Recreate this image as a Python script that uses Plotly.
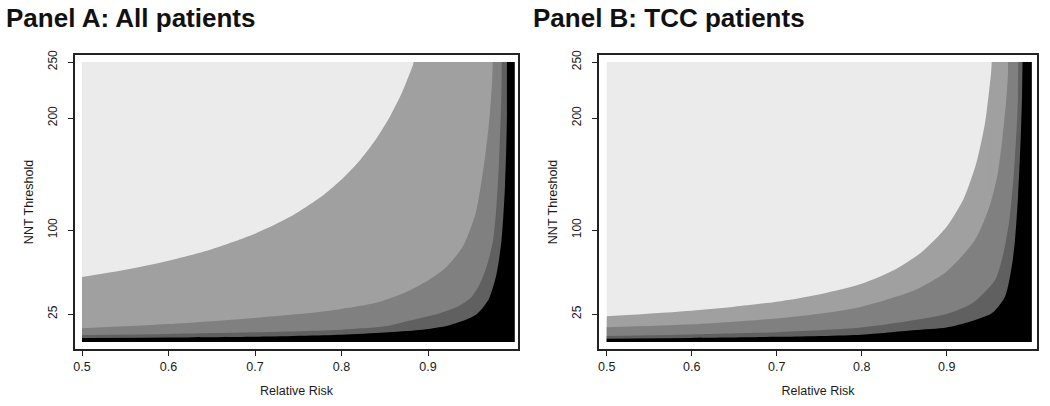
import plotly.graph_objects as go

# ---------------- data ----------------
RR_RANGE = [0.5, 1.0]
NNT_RANGE = [0, 250]
X_TICKS = [0.5, 0.6, 0.7, 0.8, 0.9]
X_TICKTEXT = ["0.5", "0.6", "0.7", "0.8", "0.9"]
Y_TICKS = [25, 100, 200, 250]
Y_TICKTEXT = ["25", "100", "200", "250"]

BAND_COLORS = ["#ebebeb", "#a0a0a0", "#808080", "#606060", "#000000"]

# Panel A: All patients - band boundaries (Relative Risk, NNT Threshold)
A_B1_RR = [0.5, 0.55, 0.6, 0.65, 0.7, 0.74, 0.78, 0.8, 0.82, 0.84, 0.855, 0.87, 0.884]
A_B1_NNT = [58, 64.4, 72.5, 82.9, 96.7, 111.5, 131.8, 145, 161.1, 181.3, 200, 223.1, 250]
A_B2_RR = [0.5, 0.6, 0.7, 0.76, 0.8, 0.84, 0.87, 0.9, 0.92, 0.94, 0.955, 0.965, 0.971, 0.9755]
A_B2_NNT = [12.2, 16, 21.5, 25.6, 29.5, 35, 43, 55, 66, 85, 115, 160, 200, 250]
A_B3_RR = [0.5, 0.6, 0.7, 0.8, 0.85, 0.87, 0.906, 0.935, 0.95, 0.96, 0.968, 0.975, 0.979, 0.982, 0.9845, 0.986]
A_B3_NNT = [6.2, 7.2, 8.6, 11, 14, 17.5, 24, 32, 40, 52, 68, 90, 120, 160, 210, 250]
A_B4_RR = [0.5, 0.6, 0.7, 0.8, 0.85, 0.89, 0.925, 0.955, 0.97, 0.979, 0.985, 0.989, 0.991, 0.992]
A_B4_NNT = [3.6, 4.0, 4.7, 6.5, 8.5, 10.7, 15, 24, 38, 60, 91, 140, 190, 250]

# Panel B: TCC patients - band boundaries
B_B1_RR = [0.5, 0.6, 0.65, 0.7, 0.75, 0.8, 0.84, 0.87, 0.9, 0.92, 0.935, 0.945, 0.9537]
B_B1_NNT = [23, 28, 31.5, 36, 42.5, 52, 65, 80, 103, 128, 160, 195, 250]
B_B2_RR = [0.5, 0.6, 0.7, 0.75, 0.8, 0.8627, 0.9, 0.9333, 0.95, 0.96, 0.966, 0.97, 0.973]
B_B2_NNT = [13.1, 15.75, 21, 25.2, 31.5, 46.4, 63, 91, 120, 150, 185, 215, 250]
B_B3_RR = [0.5, 0.6, 0.7, 0.8, 0.8627, 0.9, 0.93, 0.957, 0.967, 0.974, 0.979, 0.983, 0.985]
B_B3_NNT = [5.4, 6.7, 8.8, 13, 19.6, 25, 34.5, 55.4, 80, 110, 150, 200, 250]
B_B4_RR = [0.5, 0.6, 0.7, 0.8, 0.86, 0.9, 0.92, 0.953, 0.9686, 0.9765, 0.9804, 0.984, 0.987, 0.99]
B_B4_NNT = [3.0, 3.6, 4.6, 6.5, 10.5, 13, 16.5, 25.6, 40.5, 67, 91, 130, 180, 250]

PANELS = [
    ("Panel A: All patients", [(A_B1_RR, A_B1_NNT), (A_B2_RR, A_B2_NNT), (A_B3_RR, A_B3_NNT), (A_B4_RR, A_B4_NNT)]),
    ("Panel B: TCC patients", [(B_B1_RR, B_B1_NNT), (B_B2_RR, B_B2_NNT), (B_B3_RR, B_B3_NNT), (B_B4_RR, B_B4_NNT)]),
]

# ---------------- figure ----------------
W, H = 1050, 406


def px2x(p):
    return p / W


def py2y(q):
    return 1 - q / H


fig = go.Figure()

axis_suffix = ["", "2"]
SEAM = 0.0008
for i, (title, bounds) in enumerate(PANELS):
    xa = "x" + axis_suffix[i]
    ya = "y" + axis_suffix[i]
    # lightest band: the whole data area
    fig.add_trace(go.Scatter(
        x=[RR_RANGE[0], RR_RANGE[1], RR_RANGE[1], RR_RANGE[0]],
        y=[NNT_RANGE[0], NNT_RANGE[0], NNT_RANGE[1], NNT_RANGE[1]],
        fill="toself", fillcolor=BAND_COLORS[0], line=dict(width=0),
        mode="lines", hoverinfo="skip", xaxis=xa, yaxis=ya))
    for k, (rr, nnt) in enumerate(bounds):
        col = BAND_COLORS[k + 1]
        # curved boundary, everything below it gets the darker band colour
        fig.add_trace(go.Scatter(
            x=rr, y=nnt, fill="tozeroy", fillcolor=col,
            line=dict(width=0, shape="spline", smoothing=0.7),
            mode="lines", hoverinfo="skip", xaxis=xa, yaxis=ya))
        # the part right of where the boundary leaves the top of the plot
        fig.add_trace(go.Scatter(
            x=[rr[-1] - SEAM, RR_RANGE[1]], y=[NNT_RANGE[1], NNT_RANGE[1]], fill="tozeroy", fillcolor=col,
            line=dict(width=0), mode="lines", hoverinfo="skip", xaxis=xa, yaxis=ya))

font_family = "Liberation Sans, Arial, sans-serif"
txt_col = "#1a1a1a"


def xaxis_cfg(domain, rng):
    return dict(domain=domain, range=rng, tickvals=X_TICKS, ticktext=X_TICKTEXT,
                ticks="outside", ticklen=5, tickwidth=1, tickcolor="#222",
                showline=True, mirror=True, linecolor="#222", linewidth=1.5,
                showgrid=False, zeroline=False, automargin=False, fixedrange=True,
                tickfont=dict(size=12.5, color=txt_col, family=font_family),
                title=dict(text="Relative Risk", standoff=13,
                           font=dict(size=12.5, color=txt_col, family=font_family)))


def yaxis_cfg(rng):
    return dict(domain=[py2y(349), py2y(55)], range=rng, tickvals=Y_TICKS, ticktext=Y_TICKTEXT,
                ticks="outside", ticklen=5, tickwidth=1, tickcolor="#222", tickangle=-90,
                showline=True, mirror=True, linecolor="#222", linewidth=1.5,
                showgrid=False, zeroline=False, ticklabelstandoff=6, automargin=False, fixedrange=True,
                tickfont=dict(size=12, color=txt_col, family=font_family),
                title=dict(text="NNT Threshold", standoff=10,
                           font=dict(size=12.5, color=txt_col, family=font_family)))


fig.update_layout(
    width=W, height=H, margin=dict(l=0, r=0, t=0, b=0, autoexpand=False),
    paper_bgcolor="white", plot_bgcolor="white", showlegend=False,
    xaxis=dict(anchor="y", **xaxis_cfg([px2x(75), px2x(518)], [0.4919, 1.004])),
    yaxis=dict(anchor="x", **yaxis_cfg([-6.25, 256.25])),
    xaxis2=dict(anchor="y2", **xaxis_cfg([px2x(599), px2x(1037)], [0.4909, 1.0063])),
    yaxis2=dict(anchor="x2", **yaxis_cfg([-6.25, 256.25])),
)

for (title, _), xleft in zip(PANELS, [5, 532]):
    fig.add_annotation(text="<b>" + title + "</b>", xref="paper", yref="paper",
                       x=px2x(xleft), y=py2y(18), xanchor="left", yanchor="middle", showarrow=False,
                       borderpad=0, font=dict(size=26, color="#111", family=font_family))

fig.write_html("out.html", config={"displayModeBar": False},
               post_script="document.body.style.margin='0';")
